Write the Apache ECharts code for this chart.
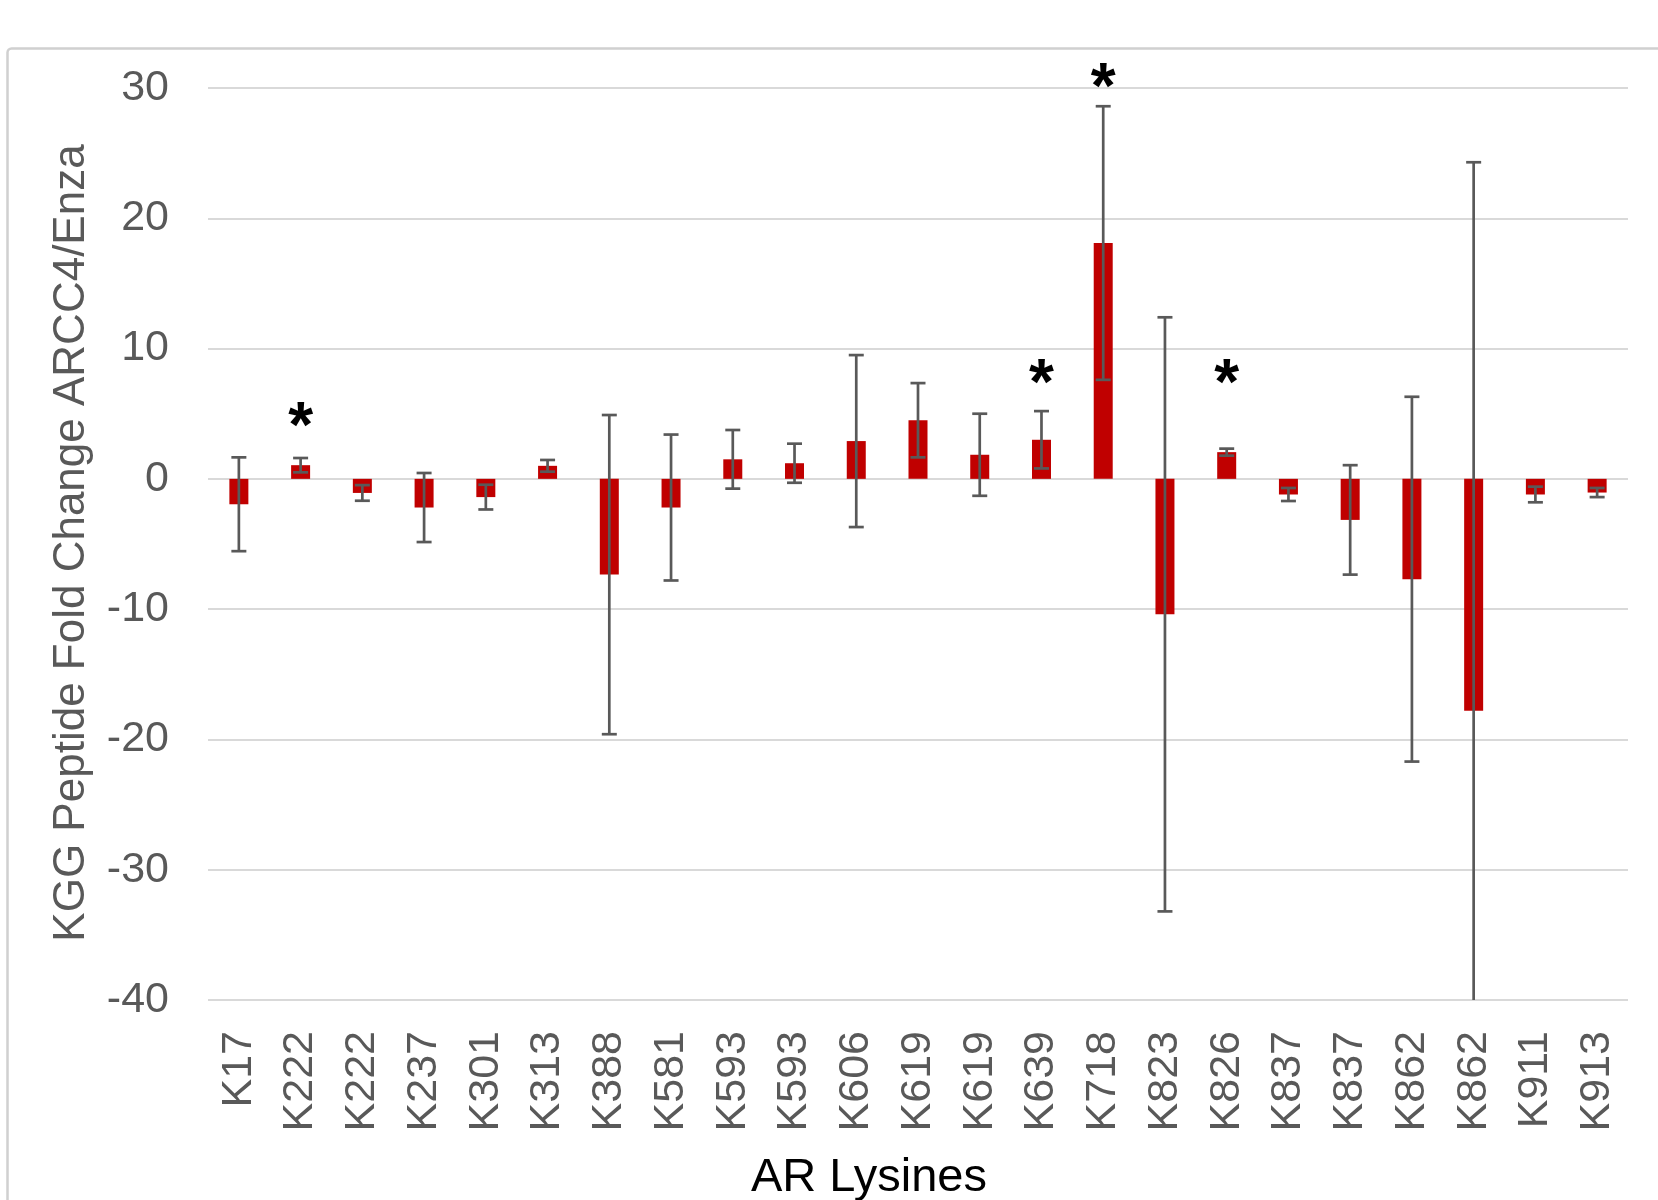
<!DOCTYPE html>
<html>
<head>
<meta charset="utf-8">
<script src="https://cdn.jsdelivr.net/npm/echarts@6/dist/echarts.min.js"></script>
<style>
  html, body { margin: 0; padding: 0; background: #fff; }
  #chart { width: 1658px; height: 1200px; }
</style>
</head>
<body>
<div id="chart"></div>
<script>
// ---- data ----
const categories = ['K17','K222','K222','K237','K301','K313','K388','K581','K593','K593','K606','K619','K619','K639','K718','K823','K826','K837','K837','K862','K862','K911','K913'];
const foldChange = [-1.95, 1.05, -1.08, -2.2, -1.4, 1.0, -7.35, -2.2, 1.5, 1.2, 2.9, 4.5, 1.85, 3.0, 18.1, -10.4, 2.05, -1.2, -3.15, -7.7, -17.8, -1.2, -1.05];
const errorBars = [3.6, 0.55, 0.6, 2.65, 0.95, 0.45, 12.25, 5.6, 2.25, 1.5, 6.6, 2.85, 3.15, 2.2, 10.5, 22.8, 0.27, 0.5, 4.2, 14.0, 42.1, 0.6, 0.35];
const starCategories = [1, 13, 14, 16];
const starHeights = [3.8, 7.1, 29.8, 7.1];
const yMin = -40, yMax = 30, yStep = 10;
const yAxisTitle = 'KGG Peptide Fold Change ARCC4/Enza';
const xAxisTitle = 'AR Lysines';

const FONT = "'Liberation Sans', Arial, sans-serif";
const chart = echarts.init(document.getElementById('chart'), null, { renderer: 'canvas' });

const errData = foldChange.map((v, i) => [i, v, errorBars[i]]);
const starData = starCategories.map((c, k) => [c, starHeights[k]]);

const option = {
  animation: false,
  backgroundColor: '#fff',
  grid: { left: 208, right: 30, top: 88, bottom: 200, containLabel: false },
  xAxis: {
    type: 'category',
    data: categories,
    axisLine: { show: false, onZero: false },
    axisTick: { show: false },
    splitLine: { show: false },
    axisLabel: {
      rotate: 90, interval: 0, margin: 31,
      fontFamily: FONT, fontSize: 43, color: '#595959'
    }
  },
  yAxis: {
    type: 'value',
    min: yMin, max: yMax, interval: yStep,
    axisLine: { show: false },
    axisTick: { show: false },
    splitLine: { show: true, lineStyle: { color: '#d9d9d9', width: 2 } },
    axisLabel: { margin: 39, fontFamily: FONT, fontSize: 43, color: '#595959' }
  },
  series: [
    {
      type: 'bar',
      data: foldChange,
      barWidth: 19,
      itemStyle: { color: '#c00000' },
      z: 2
    },
    {
      type: 'custom',
      data: errData,
      z: 3,
      renderItem: function (params, api) {
        const i = api.value(0), v = api.value(1), e = api.value(2);
        const hi = Math.min(v + e, yMax);
        const loRaw = v - e;
        const lo = Math.max(loRaw, yMin);
        const pt = api.coord([i, hi]);
        const pb = api.coord([i, lo]);
        const cap = 7.5;
        const st = { stroke: '#595959', lineWidth: 2.7 };
        const children = [
          { type: 'line', shape: { x1: pt[0], y1: pt[1], x2: pb[0], y2: pb[1] }, style: st },
          { type: 'line', shape: { x1: pt[0] - cap, y1: pt[1], x2: pt[0] + cap, y2: pt[1] }, style: st }
        ];
        if (loRaw >= yMin) {
          children.push({ type: 'line', shape: { x1: pb[0] - cap, y1: pb[1], x2: pb[0] + cap, y2: pb[1] }, style: st });
        }
        return { type: 'group', children: children };
      }
    },
    {
      type: 'custom',
      data: starData,
      z: 4,
      renderItem: function (params, api) {
        const p = api.coord([api.value(0), api.value(1)]);
        return {
          type: 'text',
          x: p[0], y: p[1],
          style: {
            text: '*', fill: '#000', fontFamily: FONT, fontWeight: 'bold', fontSize: 64,
            textAlign: 'center', textVerticalAlign: 'middle'
          }
        };
      }
    }
  ],
  graphic: [
    {
      type: 'rect', left: 5, top: 46, z: -1,
      shape: { x: 0, y: 0, width: 1700, height: 1300, r: 4 },
      style: { fill: 'none', stroke: '#d0d0d0', lineWidth: 2.5 }
    },
    {
      type: 'text', x: 72, y: 543, rotation: Math.PI / 2,
      style: {
        text: yAxisTitle, fill: '#595959', fontFamily: FONT, fontSize: 44,
        textAlign: 'center', textVerticalAlign: 'middle'
      }
    },
    {
      type: 'text', x: 869, y: 1178,
      style: {
        text: xAxisTitle, fill: '#000', fontFamily: FONT, fontSize: 47,
        textAlign: 'center', textVerticalAlign: 'middle'
      }
    }
  ]
};
chart.setOption(option);
</script>
</body>
</html>
